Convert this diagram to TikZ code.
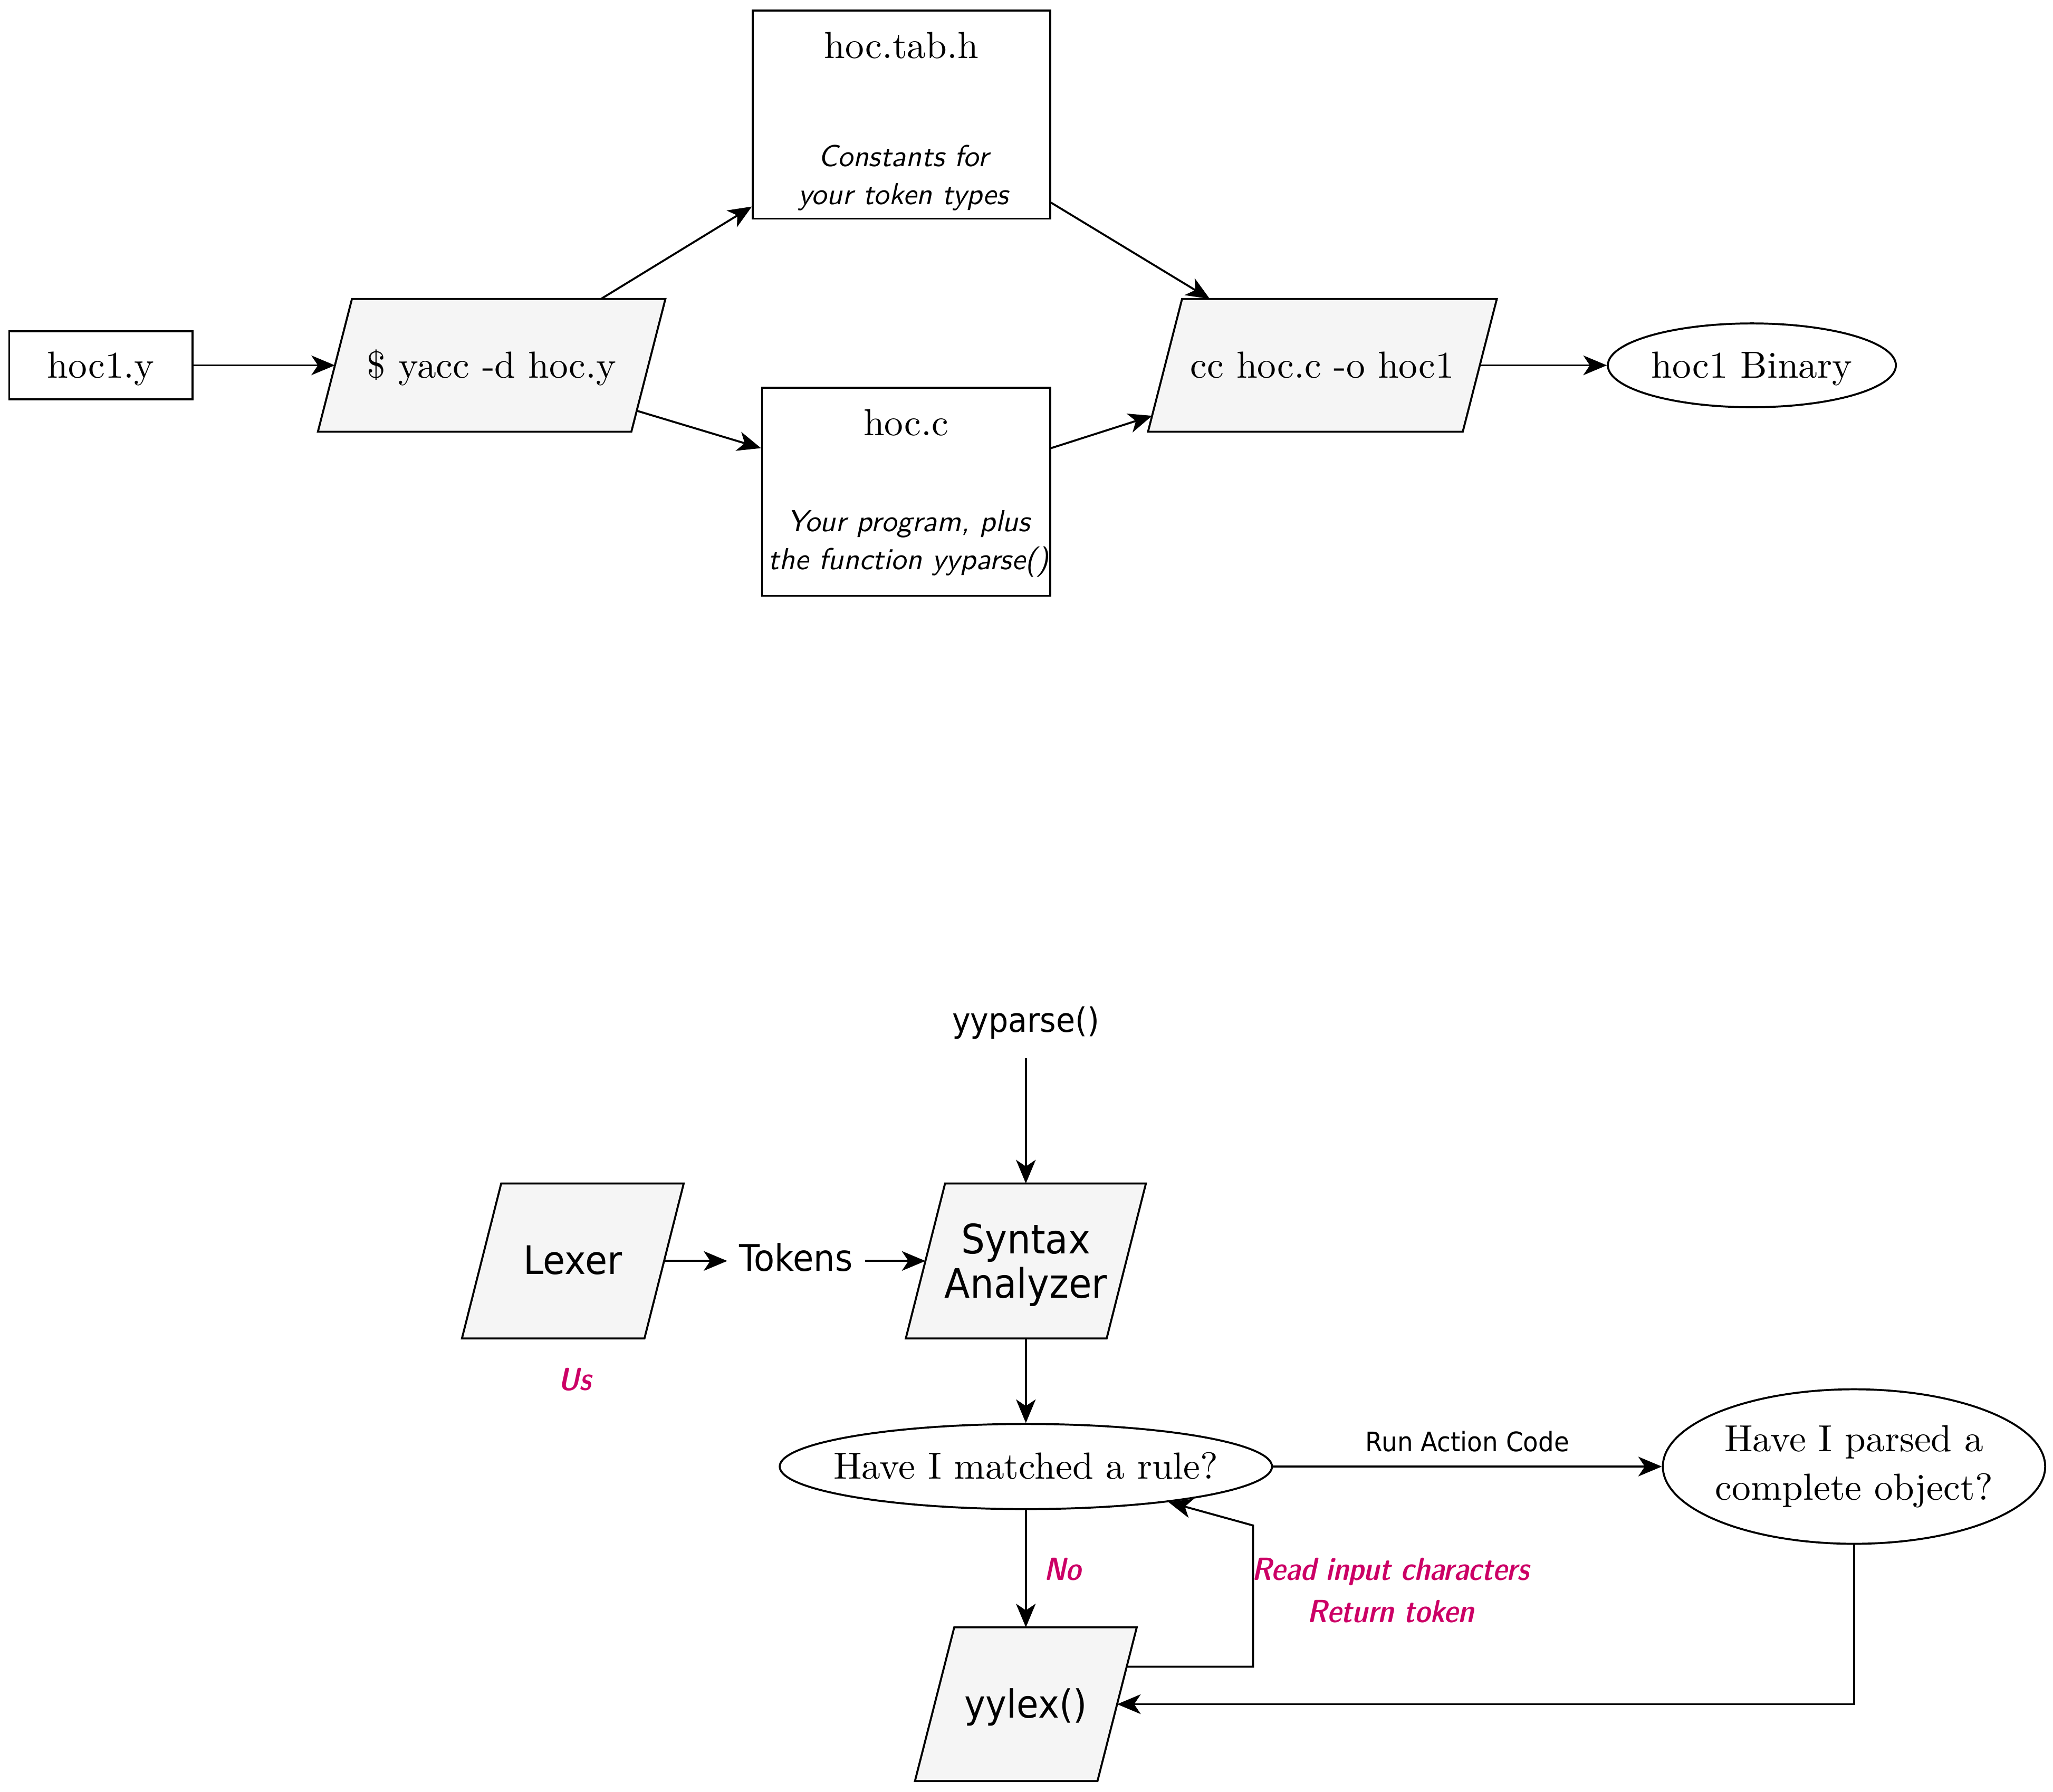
\documentclass[tikz,border=0pt]{standalone}
\usepackage{fontspec}
\setmainfont{lmroman10-regular.otf}
\setsansfont{lmsans10-regular.otf}[ItalicFont=lmsans10-oblique.otf]
\newfontfamily\accentfont{lmsansdemicond10-oblique.otf}
\newfontfamily\lucida[FakeStretch=0.92]{DejaVu Sans}
\usetikzlibrary{shapes.geometric,arrows.meta,calc,backgrounds}
\definecolor{accentc}{HTML}{CC0066}
\definecolor{parafill}{HTML}{F5F5F5}
\tikzset{
  lw/.style={line width=1.5pt},
  arr/.style={lw, -{Stealth[length=18pt,width=15pt,inset=5pt]}},
  box/.style={draw, lw, rectangle, inner sep=0pt},
  oval/.style={draw, lw, ellipse, inner sep=0pt},
  paratext/.style={inner sep=0pt, align=center},
  serif/.style={font=\fontsize{28.8pt}{37pt}\selectfont, text height=25.3pt, text depth=6.3pt},
  note/.style={font=\fontsize{23.2pt}{29pt}\selectfont\sffamily\itshape, align=center, inner sep=0pt,
               text height=49pt, text depth=6pt},
  accent/.style={text=accentc, font=\accentfont\fontsize{24.5pt}{32pt}\selectfont, align=center, inner sep=0pt,
                 text height=24pt, text depth=6.4pt},
}
\newcommand\drawpara[2]{%
  \coordinate (#1-nw) at ([xshift=#2]#1.north west);
  \coordinate (#1-ne) at ([xshift=#2]#1.north east);
  \coordinate (#1-se) at ([xshift=-#2]#1.south east);
  \coordinate (#1-sw) at ([xshift=-#2]#1.south west);
  \draw[lw, fill=parafill] (#1-nw) -- (#1-ne) -- (#1-se) -- (#1-sw) -- cycle;
}
\begin{document}
\begin{tikzpicture}[x=1pt,y=-1pt]
\useasboundingbox (0,0) rectangle (1568,1368.2);

% ---------- top: build pipeline ----------
\node[box, serif, minimum width=140pt, minimum height=52pt] (src) at (77,279) {hoc1.y};
\node[paratext, serif, minimum width=239pt, minimum height=101pt] (yacc) at (375.5,279) {\$ yacc -d hoc.y};
\node[box, minimum width=227pt, minimum height=159pt] (tab) at (688.5,87.5) {};
\node[serif, inner sep=0pt] (tabT) at (688.5,35) {hoc.tab.h};
\node[note] (tabN) at (690,134.5) {Constants for\\your token types};
\node[box, minimum width=220pt, minimum height=159pt] (hocc) at (692,375.5) {};
\node[serif, inner sep=0pt] (hoccT) at (692,323) {hoc.c};
\node[note] (hoccN) at (694,413.5) {Your program, plus\\the function yyparse()};
\node[paratext, serif, minimum width=240pt, minimum height=101pt] (cc) at (1010,279) {cc hoc.c -o hoc1};
\node[oval, minimum width=220pt, minimum height=64pt,
      label={[serif, inner sep=0pt]center:hoc1 Binary}] (bin) at (1338,279) {};

% ---------- bottom: parser loop ----------
\node[inner sep=0pt, minimum height=54pt, text height=20pt, text depth=5.5pt,
      font=\lucida\fontsize{25.7pt}{30pt}\selectfont] (yyp) at (783.5,781) {yyparse()};
\node[paratext, font=\lucida\fontsize{30pt}{34pt}\selectfont, text height=26pt, text depth=6pt,
      minimum width=139pt, minimum height=118pt] (lex) at (437.5,963) {Lexer};
\node[paratext, font=\lucida\fontsize{31pt}{34pt}\selectfont, text height=63pt, text depth=6.4pt,
      minimum width=153pt, minimum height=118pt] (syn) at (783.5,963) {Syntax\\Analyzer};
\node[inner xsep=9pt, inner ysep=0pt, text height=22pt, text depth=6.4pt,
      font=\lucida\fontsize{28pt}{30pt}\selectfont] (tok) at (608,963) {Tokens};
\node[accent] (us) at (439,1053) {Us};
\node[oval, minimum width=376pt, minimum height=65pt,
      label={[serif, inner sep=0pt]center:Have I matched a rule?}] (match) at (783.5,1120) {};
\node[oval, minimum width=292pt, minimum height=118pt,
      label={[serif, align=center, inner sep=0pt, text height=58.4pt, text depth=7pt]center:Have I parsed a\\complete object?}] (parsed) at (1416,1120) {};
\node[paratext, font=\lucida\fontsize{29.6pt}{34pt}\selectfont, text height=27pt, text depth=6.4pt,
      minimum width=139pt, minimum height=117pt] (yylex) at (783.5,1301.5) {yylex()};
\node[accent, text height=54.4pt] (readlbl) at (1062,1215) {Read input characters\\Return token};
\coordinate (loop) at (957,1165);

\begin{scope}[on background layer]
  \drawpara{yacc}{13pt}
  \drawpara{cc}{13pt}
  \drawpara{lex}{15pt}
  \drawpara{syn}{15pt}
  \drawpara{yylex}{15pt}
\end{scope}

% connectors top
\draw[arr] (src.east) -- (yacc.west);
\draw[arr] ([xshift=83.5pt]yacc.north) -- ([yshift=10pt]tab.south west);
\draw[arr] ($(yacc-ne)!0.842!(yacc-se)$) -- ([yshift=-47pt]hocc.north west);
\draw[arr] ([yshift=13pt]tab.south east) -- ([xshift=-86pt]cc.north);
\draw[arr] ([yshift=-47pt]hocc.north east) -- ($(cc-nw)!0.88!(cc-sw)$);
\draw[arr] (cc.east) -- (bin.west);

% connectors bottom
\draw[arr] (yyp.south) -- (syn.north);
\draw[arr] (lex.east) -- (tok.west);
\draw[arr] (tok.east) -- (syn.west);
\draw[arr] (syn.south) -- (match.north);
\draw[arr] (match.east) -- node[midway, yshift=19pt, inner sep=0pt, text height=20pt, text depth=5.4pt,
      font=\lucida\fontsize{20.5pt}{24pt}\selectfont] (runlbl) {Run Action Code} (parsed.west);
\draw[arr] (match.south) -- node[midway, xshift=28pt, accent] (nolbl) {No} (yylex.north);
\draw[arr] ($(yylex-ne)!0.256!(yylex-se)$) -| (loop) -- (match.-14.3);
\draw[arr] (parsed.south) |- (yylex.east);
\end{tikzpicture}
\end{document}
